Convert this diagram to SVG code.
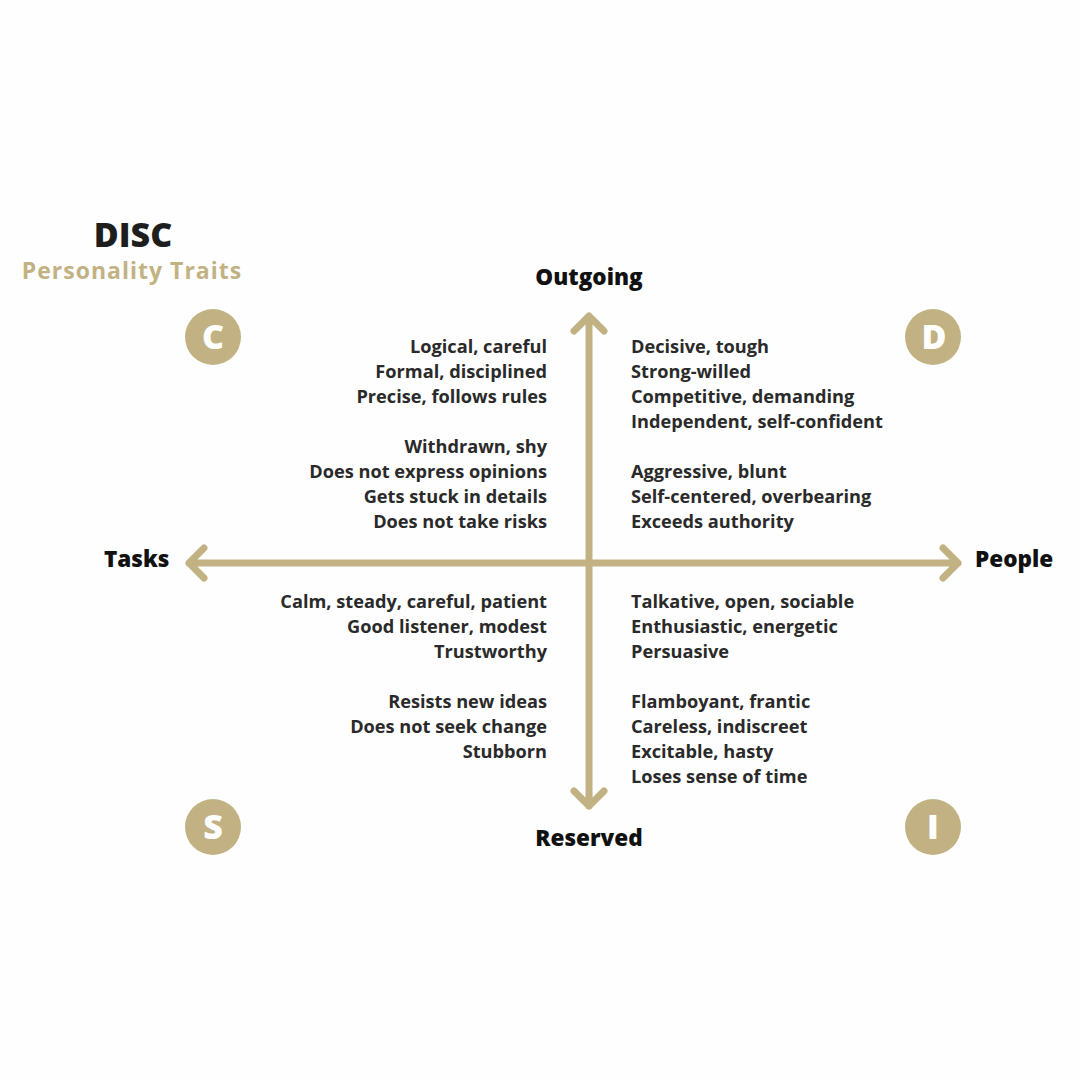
<svg xmlns="http://www.w3.org/2000/svg" width="1080" height="1080" viewBox="0 0 1080 1080">
<style>
.t{font-family:"Open Sans","DejaVu Sans",sans-serif;font-weight:bold;font-size:18.2px;fill:#2a2a2a}
.r{text-anchor:end}
.ax{font-family:"Open Sans","DejaVu Sans",sans-serif;font-weight:800;font-size:22.5px;fill:#111}
.ln{stroke:#c2b283;stroke-width:7;fill:none;stroke-linecap:round;stroke-linejoin:round}
.c{fill:#c2b283}
.cl{font-family:"Open Sans","DejaVu Sans",sans-serif;font-weight:800;font-size:34px;fill:#fff;text-anchor:middle}
</style>
<rect width="1080" height="1080" fill="#fefefe"/>
<g id="title">
<text x="133" y="247" text-anchor="middle" font-family="Open Sans, DejaVu Sans, sans-serif" font-weight="800" font-size="34" fill="#1e1e1e">DISC</text>
<text x="132" y="279" text-anchor="middle" font-family="Open Sans, DejaVu Sans, sans-serif" font-weight="bold" font-size="23" fill="#c2b283" letter-spacing="1">Personality  Traits</text>
</g>
<g id="connectors">
<path class="ln" d="M589 316V806M574 331L589 316L604 331M574 791L589 806L604 791"/>
<path class="ln" d="M189 563H958M204 548L189 563L204 578M943 548L958 563L943 578"/>
</g>
<g id="axes">
<text class="ax" x="589" y="285" text-anchor="middle">Outgoing</text>
<text class="ax" x="589" y="846" text-anchor="middle">Reserved</text>
<text class="ax" x="104" y="567">Tasks</text>
<text class="ax" x="975" y="567">People</text>
</g>
<g id="C"><circle class="c" cx="213" cy="337" r="28"/><text class="cl" x="213" y="349">C</text></g>
<g id="D"><circle class="c" cx="933" cy="337" r="28"/><text class="cl" x="934" y="349">D</text></g>
<g id="S"><circle class="c" cx="213" cy="827" r="28"/><text class="cl" x="213" y="839">S</text></g>
<g id="I"><circle class="c" cx="933" cy="827" r="28"/><text class="cl" x="933" y="839">I</text></g>
<g id="c-traits">
<text class="t r" x="547" y="353">Logical, careful</text>
<text class="t r" x="547" y="378">Formal, disciplined</text>
<text class="t r" x="547" y="403">Precise, follows rules</text>
<text class="t r" x="547" y="453">Withdrawn, shy</text>
<text class="t r" x="547" y="478">Does not express opinions</text>
<text class="t r" x="547" y="503">Gets stuck in details</text>
<text class="t r" x="547" y="528">Does not take risks</text>
</g>
<g id="d-traits">
<text class="t" x="631" y="353">Decisive, tough</text>
<text class="t" x="631" y="378">Strong-willed</text>
<text class="t" x="631" y="403">Competitive, demanding</text>
<text class="t" x="631" y="428">Independent, self-confident</text>
<text class="t" x="631" y="478">Aggressive, blunt</text>
<text class="t" x="631" y="503">Self-centered, overbearing</text>
<text class="t" x="631" y="528">Exceeds authority</text>
</g>
<g id="s-traits">
<text class="t r" x="547" y="608">Calm, steady, careful, patient</text>
<text class="t r" x="547" y="633">Good listener, modest</text>
<text class="t r" x="547" y="658">Trustworthy</text>
<text class="t r" x="547" y="708">Resists new ideas</text>
<text class="t r" x="547" y="733">Does not seek change</text>
<text class="t r" x="547" y="758">Stubborn</text>
</g>
<g id="i-traits">
<text class="t" x="631" y="608">Talkative, open, sociable</text>
<text class="t" x="631" y="633">Enthusiastic, energetic</text>
<text class="t" x="631" y="658">Persuasive</text>
<text class="t" x="631" y="708">Flamboyant, frantic</text>
<text class="t" x="631" y="733">Careless, indiscreet</text>
<text class="t" x="631" y="758">Excitable, hasty</text>
<text class="t" x="631" y="783">Loses sense of time</text>
</g>
</svg>
